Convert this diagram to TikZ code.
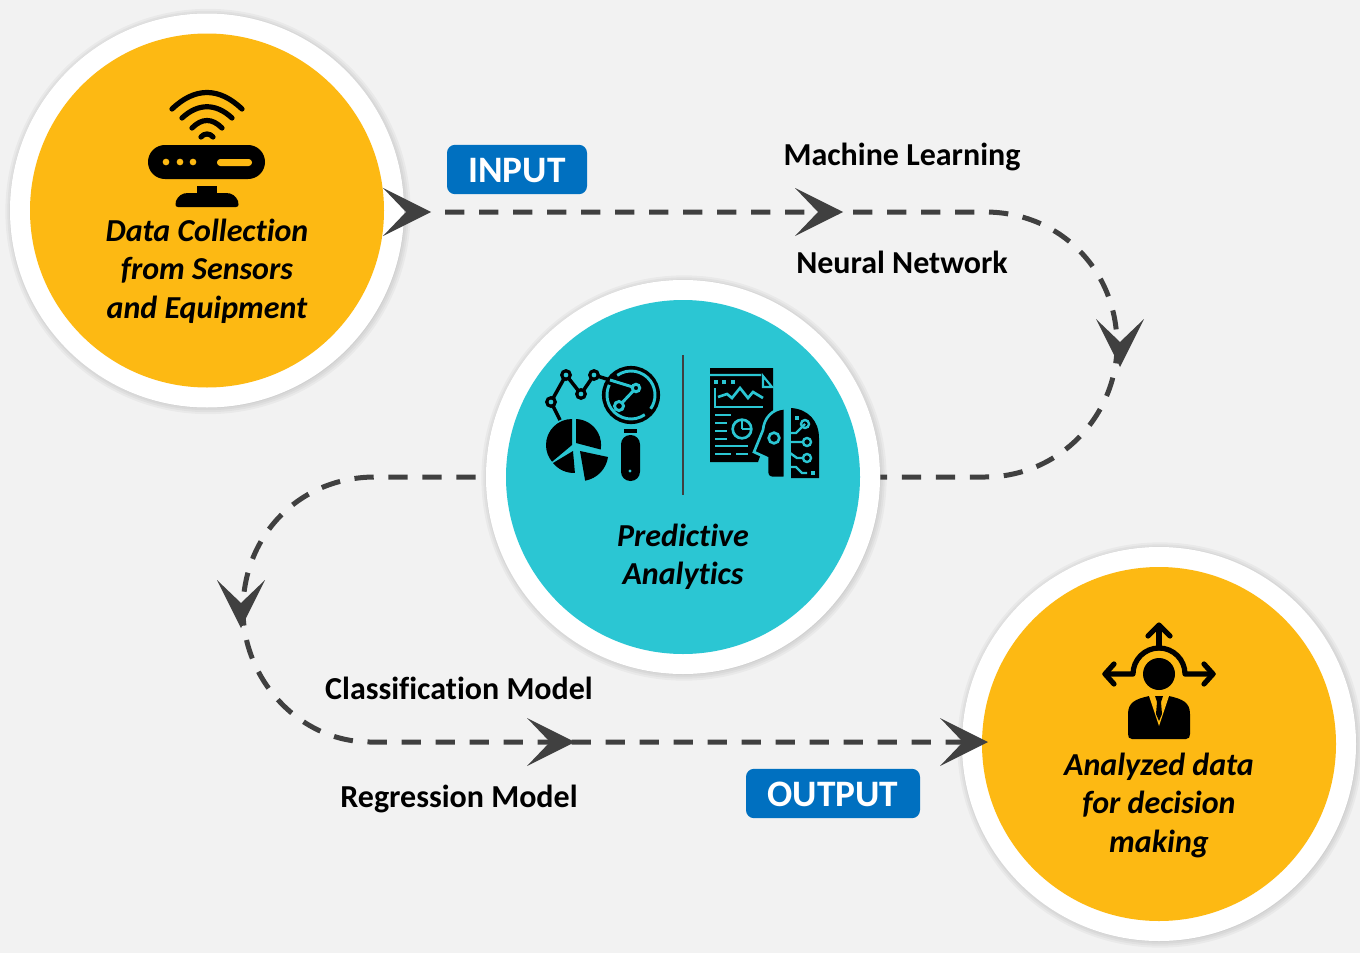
\documentclass[tikz,border=0pt]{standalone}
\usepackage{fontspec}
\setmainfont[Ligatures=NoCommon]{Carlito}
\definecolor{pagegray}{HTML}{F2F2F2}
\definecolor{sunyellow}{HTML}{FDB913}
\definecolor{tealcore}{HTML}{2BC6D3}
\definecolor{tagblue}{HTML}{0070C0}
\definecolor{flowgray}{HTML}{404040}
\tikzset{
  ring/.style={circle,fill=white,minimum size=295.5pt,inner sep=0pt},
  core/.style={circle,minimum size=265.5pt,inner sep=0pt},
  corelabel/.style={align=center,font=\fontsize{24}{28.9}\selectfont\bfseries\itshape,text=black},
  tag/.style={fill=tagblue,rounded corners=6pt,text=white,inner sep=0pt,font=\fontsize{28}{30}\selectfont\bfseries},
  modelname/.style={anchor=base,font=\fontsize{24}{27}\selectfont\bfseries,text=black},
  flow/.style={flowgray,line width=3.75pt,dash pattern=on 14.5pt off 11pt},
  thinblack/.style={line width=3.9pt,line cap=round,line join=round},
  arrowmark/.pic={\fill[flowgray] (0,0) -- (-48,24) -- (-25,0) -- (-48,-24) -- cycle;}
}
\newcommand{\softshadow}[2]{%
  \foreach \r in {152,150.5,149,147.5,146,144.5}
    \fill[black,opacity=0.035] (#1+1,#2+1) circle[radius=\r pt];
}
\begin{document}
\begin{tikzpicture}[x=0.75pt,y=-0.75pt]
    \useasboundingbox (0,0) rectangle (1360,953);
    \fill[pagegray] (0,0) rectangle (1360,953);

    % circles
    \softshadow{207}{210.5}
    \softshadow{683}{477}
    \softshadow{1159}{744}
    \node[ring] (collect) at (207,210.5) {};
    \node[core,fill=sunyellow] (collectcore) at (collect) {};
    \node[ring] (analytics) at (683,477) {};
    \node[core,fill=tealcore] (analyticscore) at (analytics) {};
    \node[ring] (decision) at (1159,744) {};
    \node[core,fill=sunyellow] (decisioncore) at (decision) {};

    % flow lines
    \coordinate (flowstart) at (445,212);
    \coordinate (flowend) at (975,742);
    \draw[flow] (flowstart) -- (985,212) .. controls (1060,212) and (1117,270) .. (1117,345)
        .. controls (1117,415) and (1060,477) .. (985,477) -- (analytics.east);
    \draw[flow,dash phase=18pt] (analytics.west) -- (375,477) .. controls (300,477) and (243,535) .. (243,610)
        .. controls (243,680) and (300,742) .. (370,742) -- (flowend);
    \pic at (431,212) {arrowmark};
    \pic at (843,212) {arrowmark};
    \pic[rotate=-90] at (1120,367) {arrowmark};
    \pic[rotate=-90] at (241,628) {arrowmark};
    \pic at (575,742) {arrowmark};
    \pic at (988,742) {arrowmark};

    % tags and labels
    \node[tag,minimum width=105pt,minimum height=37pt] (inputtag) at (517,169.5) {\raisebox{-10.1pt}[0pt][0pt]{INPUT}};
    \node[tag,minimum width=130.5pt,minimum height=37pt] (outputtag) at (833,793.5) {\raisebox{-10.1pt}[0pt][0pt]{OUTPUT}};
    \node[modelname] (machine) at (902,165) {Machine Learning};
    \node[modelname] (neural) at (902,273) {Neural Network};
    \node[modelname] (classif) at (459,699) {Classification Model};
    \node[modelname] (regress) at (459,807) {Regression Model};
    \node[corelabel] (collecttext) at (207,271) {Data Collection\\from Sensors\\and Equipment};
    \node[corelabel] (analyticstext) at (683,557) {Predictive\\Analytics};
    \node[corelabel] (decisiontext) at (1159,805) {Analyzed data\\for decision\\making};

    % router icon
    \draw[thinblack] (172,109) .. controls (195,87) and (219,87) .. (242,109);
    \draw[thinblack] (182,118) .. controls (198,103) and (216,103) .. (232,118);
    \draw[thinblack] (192,128) .. controls (202,118) and (212,118) .. (222,128);
    \draw[thinblack] (201,137) .. controls (204,133) and (210,133) .. (213,137);
    \fill[black,rounded corners=12.7pt] (148,145) rectangle (265,179);
    \foreach \dotx in {166,180,193}
        \fill[sunyellow] (\dotx,162) circle[radius=2.5pt];
    \fill[sunyellow,rounded corners=2.5pt] (217,159) rectangle (252,166);
    \fill[black] (197,186) rectangle (217,195);
    \fill[black] (178,207) .. controls (175,207) and (175,203) .. (176,201)
        .. controls (178,196) and (182,193) .. (188,193) -- (226,193)
        .. controls (232,193) and (236,196) .. (238,201) .. controls (239,203) and (239,207) .. (236,207) -- cycle;

    % chart and pie icon
    \draw[black,line width=2.6pt] (560,420) -- (551,402) -- (566,375) -- (581,394) -- (594,375) -- (610,380);
    \foreach \chartx/\charty in {551/402,566/375,581/394,594/375}
        \filldraw[fill=tealcore,draw=black,line width=2.4pt] (\chartx,\charty) circle[radius=3.2pt];
    \fill[black] (631,395) circle[radius=21.8pt];
    \draw[tealcore,line width=2.2pt] (631,395) ++(55:24) arc[start angle=55,end angle=205,radius=24];
    \draw[tealcore,line width=2.2pt] (631,395) ++(235:24) arc[start angle=235,end angle=395,radius=24];
    \draw[tealcore,line width=2.2pt] (610,380) -- (636,388) -- (619,406);
    \filldraw[fill=black,draw=tealcore,line width=2.2pt] (636,388) circle[radius=2.8pt];
    \filldraw[fill=black,draw=tealcore,line width=2.2pt] (619,406) circle[radius=3.4pt];
    \fill[black] (624,429) rectangle (637,433);
    \fill[black,rounded corners=7pt] (621,435) -- (640,435) -- (640,481) -- (621,481) -- cycle;
    \fill[tealcore] (630,471) circle[radius=1.2pt];
    \fill[black] (576,443) -- (576,419) arc[start angle=-88,end angle=10,radius=26] -- cycle;
    \fill[black] (572,445) -- (572,419) arc[start angle=-90,end angle=-220,radius=26] -- cycle;
    \fill[black] (573,451) -- (553,463) arc[start angle=141,end angle=88,radius=27] -- cycle;
    \fill[black] (580,451) -- (608,457) arc[start angle=8,end angle=80,radius=28] -- cycle;

    % divider
    \draw[flowgray,line width=1.5pt] (683,355) -- (683,495);

    % report and head icon
    \fill[black] (710,368) -- (773,368) -- (773,420) -- (758,462) -- (710,462) -- cycle;
    \draw[tealcore,line width=1.6pt] (710,375) -- (761,375) (763,376) -- (772,387) -- (763,387) -- cycle;
    \foreach \squarex in {714,722,731}
        \fill[tealcore] (\squarex,380) rectangle ++(3.5,3.5);
    \draw[tealcore,line width=2pt] (715,388) -- (715,407) -- (763,407);
    \draw[tealcore,line width=2pt] (718,397) -- (727,394) -- (732,398) -- (740,388) -- (748,398) -- (753,392) -- (763,398);
    \foreach \rowy/\rowend in {415/731,423/727,431/727,439/727,446/748,454/731}
        \draw[tealcore,line width=2pt] (715,\rowy) -- (\rowend,\rowy);
    \draw[tealcore,line width=2pt] (736,454) -- (748,454);
    \draw[tealcore,line width=2pt] (742,429) circle[radius=7pt];
    \draw[tealcore,line width=1.5pt] (742,429) -- (742,420) (742,429) -- (750,429);
    \filldraw[fill=black,draw=tealcore,line width=2pt] (785,408) .. controls (772,409) and (764,418) .. (763,430)
        -- (754,452) -- (767,458) -- (767,472) .. controls (767,476) and (769,478) .. (773,478) -- (785,478) -- cycle;
    \fill[black] (791,408) .. controls (808,409) and (819,421) .. (819,438) -- (819,478) -- (791,478) -- cycle;
    \draw[tealcore,line width=2pt] (774,438) circle[radius=4pt];
    \draw[tealcore,line width=1.8pt] (805,424) -- (796,433) -- (790,433) (802,442) -- (790,442)
        (802,458) -- (797,458) -- (790,453) (790,467) -- (796,467) -- (802,473) -- (807,473);
    \foreach \nodex/\nodey in {805/424,807/442,807/458}
        \draw[tealcore,line width=1.8pt] (\nodex,\nodey) circle[radius=3pt];
    \fill[tealcore] (795,416) rectangle ++(3.5,3.5);
    \fill[tealcore] (811,471) rectangle ++(3.5,3.5);

    % decision person icon
    \draw[thinblack] (1105,674) -- (1133,674) arc[start angle=180,end angle=360,radius=26] -- (1213,674);
    \draw[thinblack] (1114,664) -- (1105,674) -- (1114,684);
    \draw[thinblack] (1204,664) -- (1213,674) -- (1204,684);
    \draw[thinblack] (1159,648) -- (1159,626);
    \draw[thinblack] (1148,636) -- (1159,625) -- (1170,636);
    \fill[black] (1159,674) circle[radius=12pt];
    \fill[black] (1132,739) .. controls (1129,739) and (1128,737) .. (1128,734) -- (1128,714)
        .. controls (1128,702) and (1136,699) .. (1149,696) -- (1169,696)
        .. controls (1182,699) and (1190,702) .. (1190,714) -- (1190,734)
        .. controls (1190,737) and (1189,739) .. (1186,739) -- cycle;
    \fill[sunyellow] (1149,696) -- (1159,726) -- (1169,696) -- cycle;
    \fill[black] (1155,696) -- (1163,696) -- (1161,702) -- (1162,714) -- (1159,721) -- (1156,714) -- (1157,702) -- cycle;
\end{tikzpicture}
\end{document}
